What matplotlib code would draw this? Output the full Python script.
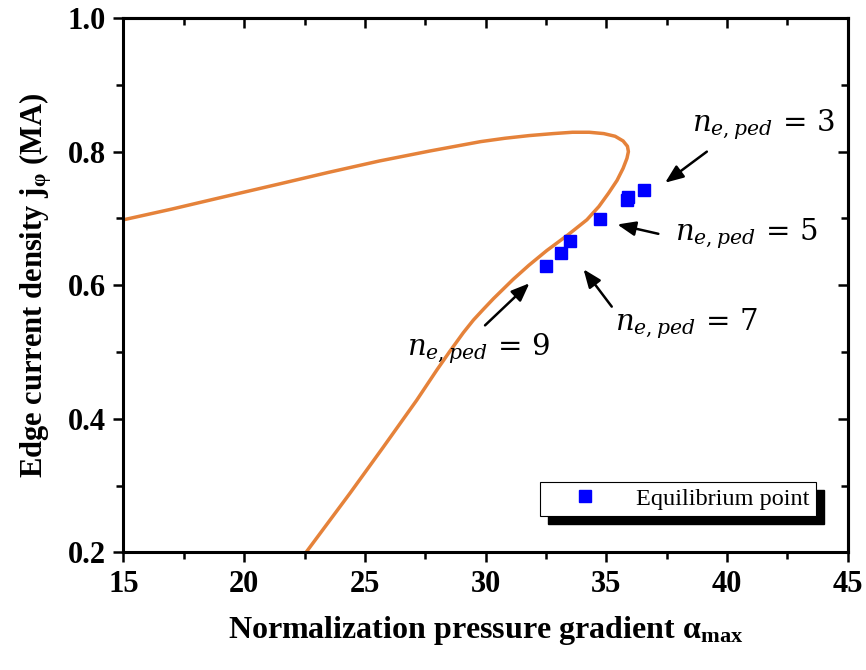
import matplotlib
matplotlib.use("Agg")
import matplotlib.pyplot as plt
from matplotlib.patches import Rectangle

# curve (alpha_max, j_phi)
curve_x = [15.0, 17.0, 19.0, 21.5, 23.5, 25.6, 27.7, 29.8, 30.8, 31.8, 32.8,
           33.6, 34.3, 34.9, 35.37, 35.7, 35.88, 35.92, 35.86, 35.7, 35.45,
           35.1, 34.7, 34.2, 33.4, 32.54, 31.8, 31.15, 30.33, 29.91, 29.5,
           29.08, 28.5, 27.98, 27.15, 25.77, 24.39, 22.56]
curve_y = [0.698, 0.714, 0.731, 0.752, 0.769, 0.786, 0.801, 0.815, 0.820,
           0.824, 0.827, 0.829, 0.829, 0.827, 0.823, 0.816, 0.808, 0.800,
           0.790, 0.775, 0.757, 0.738, 0.718, 0.698, 0.675, 0.652, 0.630,
           0.609, 0.580, 0.564, 0.548, 0.529, 0.500, 0.473, 0.428, 0.358,
           0.289, 0.200]

# equilibrium points
eq_x = [36.57, 35.92, 35.85, 34.75, 33.50, 33.12, 32.50]
eq_y = [0.743, 0.732, 0.727, 0.699, 0.666, 0.649, 0.629]

# labels: text, text position, arrow tail, arrow tip
labels = ["3", "5", "7", "9"]
label_pos = [(38.56, 0.830), (37.86, 0.668), (35.37, 0.533), (26.75, 0.496)]
arrow_tail = [(39.17, 0.800), (37.16, 0.677), (35.23, 0.568), (29.98, 0.540)]
arrow_tip = [(37.44, 0.7535), (35.46, 0.691), (34.06, 0.624), (31.82, 0.603)]

plt.rcParams["font.family"] = ["Liberation Serif", "DejaVu Serif"]
plt.rcParams["mathtext.fontset"] = "stix"

fig = plt.figure(figsize=(8.66, 6.7), dpi=100)
ax = fig.add_axes([0.1426, 0.1754, 0.8361, 0.7977])

ax.plot(curve_x, curve_y, color="#E5823A", lw=2.5, solid_capstyle="round",
        solid_joinstyle="round")
ax.plot(eq_x, eq_y, ls="none", marker="s", ms=8, color="#0000FF",
        label="Equilibrium point")

for lab, pos, tail, tip in zip(labels, label_pos, arrow_tail, arrow_tip):
    ax.text(pos[0], pos[1], r"$n_{e,ped}\,=\,%s$" % lab, fontsize=21,
            ha="left", va="baseline", math_fontfamily="dejavuserif")
    ax.annotate("", xy=tip, xytext=tail,
                arrowprops=dict(arrowstyle="-|>,head_length=0.55,head_width=0.22",
                                color="black", lw=1.8, shrinkA=0, shrinkB=0,
                                mutation_scale=20))

ax.set_xlim(15, 45)
ax.set_ylim(0.2, 1.0)
ax.set_xticks([15, 20, 25, 30, 35, 40, 45])
ax.set_yticks([0.2, 0.4, 0.6, 0.8, 1.0])
ax.set_xticks([17.5, 22.5, 27.5, 32.5, 37.5, 42.5], minor=True)
ax.set_yticks([0.3, 0.5, 0.7, 0.9], minor=True)
ax.set_yticklabels(["0.2", "0.4", "0.6", "0.8", "1.0"])

for s in ax.spines.values():
    s.set_linewidth(2.2)
ax.tick_params(which="both", direction="out", width=1.8, labelsize=22,
               top=False, right=False)
ax.tick_params(which="major", length=7.5, pad=5)
ax.tick_params(which="minor", length=5)
for t in ax.get_xticklabels() + ax.get_yticklabels():
    t.set_fontweight("bold")

# inward ticks on top/right
ax2 = ax.secondary_xaxis("top")
ax2.set_xticks([15, 20, 25, 30, 35, 40, 45])
ax2.set_xticks([17.5, 22.5, 27.5, 32.5, 37.5, 42.5], minor=True)
ax2.tick_params(which="both", direction="in", width=1.8, labeltop=False)
ax2.tick_params(which="major", length=7.5)
ax2.tick_params(which="minor", length=5)
ax2.spines["top"].set_linewidth(2.2)
ax3 = ax.secondary_yaxis("right")
ax3.set_yticks([0.2, 0.4, 0.6, 0.8, 1.0])
ax3.set_yticks([0.3, 0.5, 0.7, 0.9], minor=True)
ax3.tick_params(which="both", direction="in", width=1.8, labelright=False)
ax3.tick_params(which="major", length=7.5)
ax3.tick_params(which="minor", length=5)
ax3.spines["right"].set_linewidth(2.2)

ax.set_xlabel(r"Normalization pressure gradient α$_\mathregular{max}$",
              fontsize=23, fontweight="bold", labelpad=11)
ax.set_ylabel(r"Edge current density j$_\mathregular{φ}$ (MA)",
              fontsize=22, fontweight="bold", labelpad=10)

leg = ax.legend(loc="lower right", bbox_to_anchor=(0.9565, 0.0683),
                borderaxespad=0, fontsize=17.5, handlelength=3.2,
                handletextpad=0.5, borderpad=0.25, fancybox=False,
                framealpha=1, edgecolor="black")
leg.get_frame().set_linewidth(0.8)

# black offset shadow behind legend
fig.canvas.draw()
bb = leg.get_frame().get_window_extent()
inv = ax.transAxes.inverted()
(x0, y0), (x1, y1) = inv.transform([(bb.x0 + 8, bb.y0 - 8), (bb.x1 + 8, bb.y1 - 8)])
ax.add_patch(Rectangle((x0, y0), x1 - x0, y1 - y0, transform=ax.transAxes,
                       color="black", clip_on=False, zorder=4.9))

fig.savefig("out.png", dpi=100)
